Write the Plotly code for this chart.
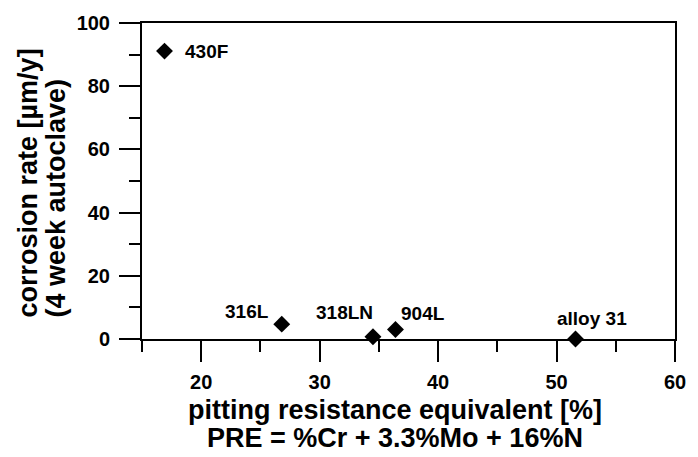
import plotly.graph_objects as go

alloys = ["430F", "316L", "318LN", "904L", "alloy 31"]
pre = [16.9, 26.8, 34.5, 36.4, 51.6]
corrosion = [91.1, 4.7, 0.7, 3.0, 0.0]

x_ticks = [20, 30, 40, 50, 60]
y_ticks = [0, 20, 40, 60, 80, 100]

x_title = ["pitting resistance equivalent [%]", "PRE = %Cr + 3.3%Mo + 16%N"]
y_title = ["corrosion rate [µm/y]", "(4 week autoclave)"]

# label offsets (pixels) relative to each marker
label_shift = {
    "430F": dict(xanchor="left", xshift=18, yshift=0),
    "316L": dict(xanchor="right", xshift=-11, yshift=13),
    "318LN": dict(xanchor="center", xshift=-28, yshift=24),
    "904L": dict(xanchor="left", xshift=4, yshift=16),
    "alloy 31": dict(xanchor="center", xshift=16, yshift=21),
}

FONT = "Liberation Sans, Arial, sans-serif"
TITLE_SIZE = 27

fig = go.Figure()
fig.add_trace(go.Scatter(
    x=pre, y=corrosion, mode="markers",
    marker=dict(symbol="diamond", size=13, color="black"),
    showlegend=False, cliponaxis=False,
))

for name, xv, yv in zip(alloys, pre, corrosion):
    s = label_shift[name]
    fig.add_annotation(x=xv, y=yv, text=name, showarrow=False,
                       xanchor=s["xanchor"], yanchor="middle",
                       xshift=s["xshift"], yshift=s["yshift"],
                       font=dict(family=FONT, size=19, color="black", weight="bold"))

# x-axis title lines (centred below the axis)
for line, ys in zip(x_title, [-71, -99]):
    fig.add_annotation(xref="paper", yref="paper", x=0.474, y=0, yshift=ys,
                       text=line, showarrow=False, xanchor="center", yanchor="middle",
                       font=dict(family=FONT, size=TITLE_SIZE, color="black", weight="bold"))

# y-axis title lines (rotated, bottom aligned)
for line, xs in zip(y_title, [-115, -87]):
    fig.add_annotation(xref="paper", yref="paper", x=0, y=0, xshift=xs, yshift=19,
                       text=line, showarrow=False, textangle=-90,
                       xanchor="center", yanchor="bottom",
                       font=dict(family=FONT, size=TITLE_SIZE, color="black", weight="bold"))

axis_common = dict(
    showline=True, linecolor="black", linewidth=2, mirror=True,
    ticks="outside", tickcolor="black", tickwidth=2, ticklen=21,
    showgrid=False, zeroline=False,
    tickfont=dict(family=FONT, size=20, color="black", weight="bold"),
)

fig.update_xaxes(
    range=[15, 60], tickmode="array", tickvals=x_ticks,
    ticktext=[str(v) for v in x_ticks],
    minor=dict(ticks="outside", tick0=15, dtick=5, ticklen=11, tickwidth=2, tickcolor="black"),
    ticklabelstandoff=3,
    **axis_common,
)
fig.update_yaxes(
    range=[0, 100], tickmode="array", tickvals=y_ticks,
    ticktext=[str(v) for v in y_ticks],
    minor=dict(ticks="outside", tick0=0, dtick=10, ticklen=11, tickwidth=2, tickcolor="black"),
    ticklabelstandoff=5,
    **axis_common,
)

fig.update_layout(
    width=698, height=457,
    margin=dict(l=142, r=15, t=18, b=118),
    plot_bgcolor="white", paper_bgcolor="white",
)

fig.write_html("out.html")
